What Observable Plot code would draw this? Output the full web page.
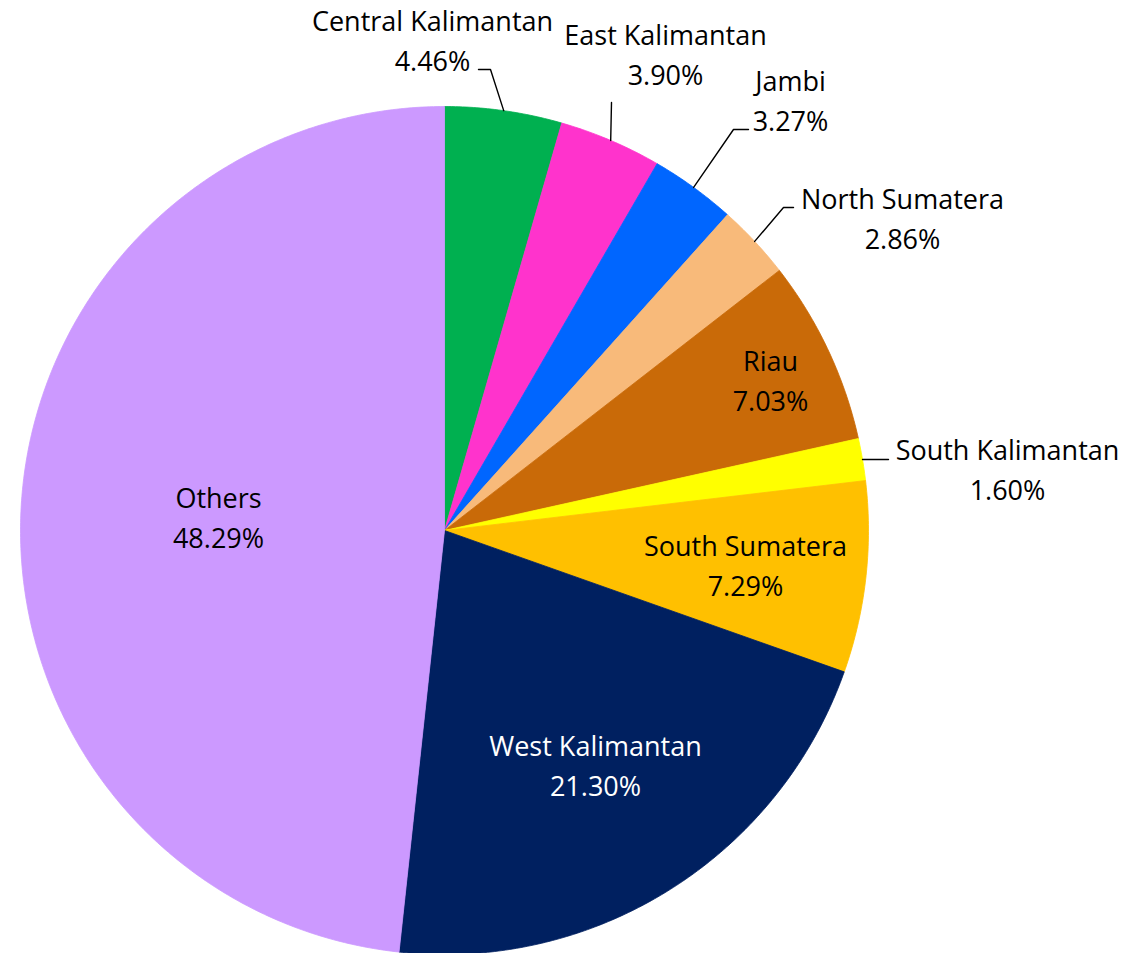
<!DOCTYPE html>
<html><head><meta charset="utf-8">
<script src="https://cdn.jsdelivr.net/npm/d3@7"></script>
<script src="https://cdn.jsdelivr.net/npm/@observablehq/plot@0.6"></script>
<style>body{margin:0;background:#fff;} #chart svg{display:block;}</style>
</head><body><div id="chart"></div>
<script>
// ---- data ----
const categories = ["Central Kalimantan","East Kalimantan","Jambi","North Sumatera","Riau","South Kalimantan","South Sumatera","West Kalimantan","Others"];
const shares = [4.46, 3.90, 3.27, 2.86, 7.03, 1.60, 7.29, 21.30, 48.29];

// ---- styles ----
const sliceColors = ["#00B050","#FF33CC","#0066FF","#F8BA7A","#C96A08","#FFFF00","#FFC000","#002060","#CC99FF"];
const labelColors = ["black","black","black","black","black","black","black","white","black"];

// ---- layout ----
const W = 1147, H = 953, CX = 444, CY = 530, R = 424;
const FONT = 27;
const labelPos = [[432,38],[665,52],[790,98],[902,216],[770,378],[1007,467],[745,563],[595,763],[218,515]];
const leaderElbows = [[[490,69],[478,69]], [[611,102]], [[733,129],[748,129]], [[783,207],[793,207]], null, [[888,459]], null, null, null];

// ---- derived geometry ----
let cum = 0;
const slices = categories.map((name, i) => {
  const a0 = cum / 100 * 2 * Math.PI; cum += shares[i];
  const a1 = cum / 100 * 2 * Math.PI;
  return {name, share: shares[i], a0, a1, color: sliceColors[i]};
});

const polyPts = [];
for (const s of slices) {
  polyPts.push({name: s.name, color: s.color, x: CX, y: CY});
  const n = Math.max(2, Math.ceil((s.a1 - s.a0) / (Math.PI / 360)));
  for (let k = 0; k <= n; k++) {
    const a = s.a0 + (s.a1 - s.a0) * k / n;
    polyPts.push({name: s.name, color: s.color, x: CX + R * Math.sin(a), y: CY - R * Math.cos(a)});
  }
  polyPts.push({name: s.name, color: s.color, x: CX, y: CY});
}

const leaderPts = [];
slices.forEach((s, i) => {
  const el = leaderElbows[i];
  if (!el) return;
  const am = (s.a0 + s.a1) / 2;
  leaderPts.push({name: s.name, x: CX + R * Math.sin(am), y: CY - R * Math.cos(am)});
  for (const [x, y] of el) leaderPts.push({name: s.name, x, y});
});

const labels = slices.map((s, i) => ({
  x: labelPos[i][0], y: labelPos[i][1],
  text: s.name + "\n" + s.share.toFixed(2) + "%",
  fill: labelColors[i]
}));

const chart = Plot.plot({
  width: W, height: H, margin: 0,
  x: {domain: [0, W], range: [0, W], axis: null},
  y: {domain: [0, H], range: [0, H], axis: null},
  marks: [
    Plot.line(polyPts, {x: "x", y: "y", z: "name", fill: "color", stroke: "color", strokeWidth: 0.8, curve: "linear"}),
    Plot.line(leaderPts, {x: "x", y: "y", z: "name", stroke: "black", strokeWidth: 1.4, curve: "linear"}),
    Plot.text(labels, {x: "x", y: "y", text: "text", fill: "fill", fontSize: FONT, fontFamily: "Open Sans", lineHeight: 1.45, textAnchor: "middle", lineAnchor: "middle"})
  ]
});
document.getElementById("chart").appendChild(chart);
</script>
</body></html>
